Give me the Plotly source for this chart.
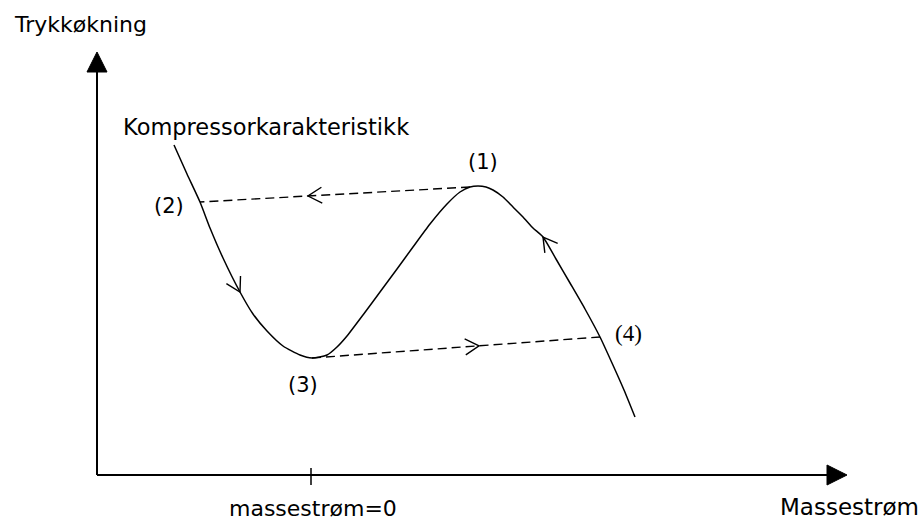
import math
import plotly.graph_objects as go

# ---- data (schematic units: x = horizontal position, y = height above the mass-flow axis) ----
curve_x = [174, 187, 200, 210, 223, 240, 253, 267, 283, 300, 312, 327, 337, 347, 363, 380, 397, 413,
           430, 447, 460, 470, 478, 486, 493, 503, 513, 523, 533, 543, 556, 570, 585, 600, 612, 624, 635]
curve_y = [330, 301, 273, 247, 217, 183, 161, 144, 129, 120, 117, 120, 128, 139, 160, 183, 206, 228,
           251, 271, 283, 288, 289, 288, 285, 278, 268, 258, 247, 238, 216, 192, 166, 138, 112, 85, 58]

# jump lines (surge cycle): (1) -> (2) and (3) -> (4)
jump_top_x = [470, 200]
jump_top_y = [288, 273]
jump_bot_x = [312, 600]
jump_bot_y = [117, 138]

point_labels = ["(1)", "(2)", "(3)", "(4)"]
point_label_x = [483, 169, 303, 628]
point_label_y = [313, 269, 90, 142]

# axes
Y_AXIS_X = 97
Y_AXIS_TOP = 423
X_AXIS_RIGHT = 847
ZERO_FLOW_X = 311

AX_HEAD_LEN = 20
AX_HEAD_HALF = 10
V_LEN = 16
V_ANG = math.radians(30)

FONT = "DejaVu Sans"
BLACK = "#000000"

fig = go.Figure()

# main characteristic curve
fig.add_trace(go.Scatter(x=curve_x, y=curve_y, mode="lines",
                         line=dict(color=BLACK, width=1.5, shape="spline", smoothing=0.6),
                         hoverinfo="skip", showlegend=False))

# dashed jumps
for xs, ys in [(jump_top_x, jump_top_y), (jump_bot_x, jump_bot_y)]:
    fig.add_trace(go.Scatter(x=xs, y=ys, mode="lines",
                             line=dict(color=BLACK, width=1.4, dash="9px,5px"),
                             hoverinfo="skip", showlegend=False))


def v_head(tx, ty, dx, dy):
    n = math.hypot(dx, dy)
    dx, dy = dx / n, dy / n
    bx, by = -dx, -dy
    pts = []
    for s in (1, -1):
        c, si = math.cos(s * V_ANG), math.sin(s * V_ANG)
        rx, ry = bx * c - by * si, bx * si + by * c
        pts.append((tx + V_LEN * rx, ty + V_LEN * ry))
    return [pts[0][0], tx, pts[1][0]], [pts[0][1], ty, pts[1][1]]


heads = []
# on-curve arrows
i = 5
heads.append(v_head(curve_x[i], curve_y[i], curve_x[i + 1] - curve_x[i - 1], curve_y[i + 1] - curve_y[i - 1]))
i = 29
heads.append(v_head(curve_x[i], curve_y[i], curve_x[i - 1] - curve_x[i + 1], curve_y[i - 1] - curve_y[i + 1]))
# dashed-line arrows
for xs, ys, t in [(jump_top_x, jump_top_y, 0.6), (jump_bot_x, jump_bot_y, 0.58)]:
    tx = xs[0] + t * (xs[1] - xs[0])
    ty = ys[0] + t * (ys[1] - ys[0])
    heads.append(v_head(tx, ty, xs[1] - xs[0], ys[1] - ys[0]))

for hx, hy in heads:
    fig.add_trace(go.Scatter(x=hx, y=hy, mode="lines", line=dict(color=BLACK, width=1.4),
                             hoverinfo="skip", showlegend=False))

# axes lines
fig.add_trace(go.Scatter(x=[Y_AXIS_X, Y_AXIS_X], y=[Y_AXIS_TOP - AX_HEAD_LEN, 0], mode="lines",
                         line=dict(color=BLACK, width=2), hoverinfo="skip", showlegend=False))
fig.add_trace(go.Scatter(x=[Y_AXIS_X, X_AXIS_RIGHT - AX_HEAD_LEN], y=[0, 0], mode="lines",
                         line=dict(color=BLACK, width=2), hoverinfo="skip", showlegend=False))
# axis arrow heads (filled)
fig.add_trace(go.Scatter(
    x=[Y_AXIS_X - AX_HEAD_HALF, Y_AXIS_X + AX_HEAD_HALF, Y_AXIS_X, Y_AXIS_X - AX_HEAD_HALF],
    y=[Y_AXIS_TOP - AX_HEAD_LEN, Y_AXIS_TOP - AX_HEAD_LEN, Y_AXIS_TOP, Y_AXIS_TOP - AX_HEAD_LEN],
    mode="lines", fill="toself", fillcolor=BLACK, line=dict(color=BLACK, width=1),
    hoverinfo="skip", showlegend=False))
fig.add_trace(go.Scatter(
    x=[X_AXIS_RIGHT - AX_HEAD_LEN, X_AXIS_RIGHT - AX_HEAD_LEN, X_AXIS_RIGHT, X_AXIS_RIGHT - AX_HEAD_LEN],
    y=[-AX_HEAD_HALF, AX_HEAD_HALF, 0, -AX_HEAD_HALF],
    mode="lines", fill="toself", fillcolor=BLACK, line=dict(color=BLACK, width=1),
    hoverinfo="skip", showlegend=False))
# zero-flow tick
fig.add_trace(go.Scatter(x=[ZERO_FLOW_X, ZERO_FLOW_X], y=[-10, 7], mode="lines",
                         line=dict(color=BLACK, width=1.5), hoverinfo="skip", showlegend=False))

ann = []
def txt(text, x, y, xanchor="center", size=22, family=FONT):
    ann.append(dict(text=text, x=x, y=y, xref="x", yref="y", showarrow=False,
                    xanchor=xanchor, yanchor="middle",
                    font=dict(family=family, size=size, color=BLACK)))

txt("Trykkøkning", 80, 451)
txt("Kompressorkarakteristikk", 121, 348, xanchor="left", size=22.5)
txt("massestrøm=0", ZERO_FLOW_X + 2, -33)
txt("Massestrøm", 921, -32, xanchor="right", size=23)
for lab, lx, ly in zip(point_labels, point_label_x, point_label_y):
    if lab == "(4)":
        txt(lab, lx, ly, size=23, family="Liberation Serif")
    else:
        txt(lab, lx, ly, size=21)

fig.update_layout(
    width=922, height=520,
    margin=dict(l=0, r=0, t=0, b=0),
    paper_bgcolor="white", plot_bgcolor="white",
    xaxis=dict(range=[0, 922], visible=False, fixedrange=True),
    yaxis=dict(range=[-45, 475], visible=False, fixedrange=True),
    annotations=ann,
    showlegend=False,
)

fig.write_html("out.html", config={"displayModeBar": False, "staticPlot": True},
               post_script="document.body.style.margin='0px';")
